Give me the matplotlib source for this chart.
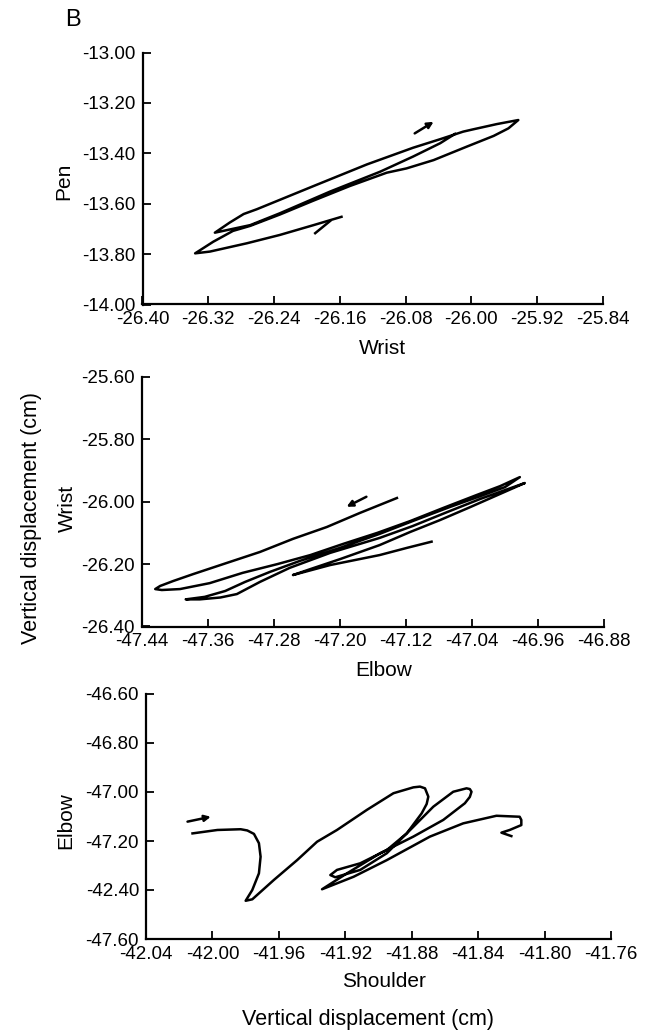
import matplotlib
matplotlib.use("Agg")
import matplotlib.pyplot as plt

plt.rcParams['font.family'] = ['Liberation Sans', 'DejaVu Sans']

# ---- panel 1: Pen vs Wrist ----
pen_x = [-26.020, -26.038, -26.071, -26.111, -26.172, -26.233, -26.269, -26.312,
         -26.294, -26.277, -26.261, -26.192, -26.127, -26.071, -26.038, -26.010,
         -25.998, -25.969, -25.943,
         -25.955, -25.973, -26.006, -26.046, -26.079, -26.103,
         -26.148, -26.193, -26.233, -26.269, -26.290,
         -26.314, -26.336,
         -26.318, -26.273, -26.233, -26.192, -26.158]
pen_y = [-13.323, -13.360, -13.413, -13.473, -13.552, -13.638, -13.685, -13.715,
         -13.675, -13.641, -13.622, -13.530, -13.444, -13.378, -13.344, -13.314,
         -13.305, -13.284, -13.268,
         -13.301, -13.331, -13.374, -13.427, -13.460, -13.477,
         -13.530, -13.589, -13.643, -13.688, -13.708,
         -13.751, -13.797,
         -13.790, -13.757, -13.724, -13.685, -13.652]
pen_barb_x = [-26.190, -26.172]
pen_barb_y = [-13.717, -13.669]
pen_arrow = ((-26.069, -13.321), (-26.046, -13.275))

# ---- panel 2: Wrist vs Elbow ----
wr_x = [-47.131, -47.176, -47.216, -47.257, -47.297, -47.337, -47.378, -47.402, -47.418, -47.424,
        -47.416, -47.394, -47.358, -47.318, -47.276, -47.236, -47.196, -47.155, -47.115, -47.075,
        -47.034, -47.006, -46.982,
        -47.000, -47.030, -47.067, -47.112, -47.152, -47.200, -47.249, -47.285, -47.315, -47.339,
        -47.364, -47.387,
        -47.370, -47.345, -47.325,
        -47.297, -47.261, -47.212, -47.152, -47.112, -47.070, -47.030, -46.976,
        -47.006, -47.042, -47.079, -47.115, -47.152, -47.200, -47.236, -47.257,
        -47.212, -47.152, -47.119, -47.089]
wr_y = [-25.988, -26.036, -26.081, -26.119, -26.161, -26.196, -26.232, -26.254, -26.270, -26.280,
        -26.283, -26.280, -26.261, -26.228, -26.200, -26.171, -26.135, -26.100, -26.062, -26.020,
        -25.978, -25.950, -25.921,
        -25.953, -25.982, -26.017, -26.062, -26.103, -26.148, -26.190, -26.225, -26.257, -26.286,
        -26.305, -26.313,
        -26.313, -26.307, -26.296,
        -26.257, -26.212, -26.164, -26.116, -26.078, -26.033, -25.991, -25.940,
        -25.975, -26.017, -26.059, -26.097, -26.139, -26.184, -26.216, -26.235,
        -26.203, -26.171, -26.148, -26.128]
wr_arrow = ((-47.168, -25.984), (-47.192, -26.016))

# ---- panel 3: Elbow vs Shoulder ----
el_x = [-42.012, -41.997, -41.983, -41.979, -41.975, -41.972, -41.971, -41.972, -41.976, -41.980,
        -41.976, -41.963, -41.949, -41.937, -41.925, -41.907, -41.891, -41.879, -41.875, -41.872,
        -41.870, -41.871, -41.874, -41.883, -41.895, -41.911, -41.925, -41.929,
        -41.926, -41.911, -41.895, -41.879, -41.867, -41.855, -41.847, -41.845,
        -41.844, -41.845, -41.848, -41.861, -41.879, -41.899, -41.919, -41.934,
        -41.915, -41.895, -41.869, -41.849, -41.829, -41.815,
        -41.814, -41.814, -41.821, -41.826, -41.820]
el_y = [-47.169, -47.155, -47.152, -47.157, -47.171, -47.209, -47.264, -47.332, -47.400, -47.444,
        -47.438, -47.359, -47.278, -47.203, -47.155, -47.073, -47.005, -46.981, -46.978, -46.985,
        -47.019, -47.049, -47.087, -47.169, -47.237, -47.291, -47.318, -47.339,
        -47.348, -47.318, -47.250, -47.142, -47.060, -46.999, -46.985, -46.988,
        -46.999, -47.020, -47.046, -47.114, -47.182, -47.250, -47.332, -47.397,
        -47.346, -47.278, -47.182, -47.128, -47.097, -47.101,
        -47.114, -47.135, -47.155, -47.166, -47.180]
el_arrow = ((-42.015, -47.121), (-42.001, -47.101))

# ticks
p1_xticks = [-26.40, -26.32, -26.24, -26.16, -26.08, -26.00, -25.92, -25.84]
p1_yticks = [-14.00, -13.80, -13.60, -13.40, -13.20, -13.00]
p2_xticks = [-47.44, -47.36, -47.28, -47.20, -47.12, -47.04, -46.96, -46.88]
p2_yticks = [-26.40, -26.20, -26.00, -25.80, -25.60]
p3_xticks = [-42.04, -42.00, -41.96, -41.92, -41.88, -41.84, -41.80, -41.76]
p3_yticks = [-47.60, -47.40, -47.20, -47.00, -46.80, -46.60]
p3_ylabels = ["-47.60", "-42.40", "-47.20", "-47.00", "-46.80", "-46.60"]

W, H = 652, 1036
fig = plt.figure(figsize=(W / 100, H / 100), dpi=100)


def make_axes(rect_px, xticks, yticks, ylabels=None):
    l, r, t, b = rect_px
    ax = fig.add_axes([l / W, 1 - b / H, (r - l) / W, (b - t) / H])
    for s in ['top', 'right']:
        ax.spines[s].set_visible(False)
    for s in ['left', 'bottom']:
        ax.spines[s].set_linewidth(1.6)
    ax.set_xlim(xticks[0], xticks[-1])
    ax.set_ylim(yticks[0], yticks[-1])
    ax.set_xticks(xticks)
    ax.set_xticklabels(["%.2f" % v for v in xticks])
    ax.set_yticks(yticks)
    ax.set_yticklabels(ylabels if ylabels else ["%.2f" % v for v in yticks])
    ax.tick_params(direction='in', length=6, width=1.3, labelsize=13.5, pad=5)
    return ax


def arrow(ax, a):
    (x0, y0), (x1, y1) = a
    ax.annotate('', xy=(x1, y1), xytext=(x0, y0),
                arrowprops=dict(arrowstyle='-|>', lw=1.8, color='black',
                                mutation_scale=9, shrinkA=0, shrinkB=0))


ax1 = make_axes((142.5, 603, 52.5, 304.5), p1_xticks, p1_yticks)
ax1.plot(pen_x, pen_y, color='black', lw=1.8, solid_joinstyle='round')
ax1.plot(pen_barb_x, pen_barb_y, color='black', lw=1.8)
arrow(ax1, pen_arrow)

ax2 = make_axes((142, 604, 377, 626.5), p2_xticks, p2_yticks)
ax2.plot(wr_x, wr_y, color='black', lw=1.8, solid_joinstyle='round')
arrow(ax2, wr_arrow)

ax3 = make_axes((146, 611, 694, 939), p3_xticks, p3_yticks, p3_ylabels)
ax3.plot(el_x, el_y, color='black', lw=1.8, solid_joinstyle='round')
arrow(ax3, el_arrow)

# labels
fig.text(73 / W, 1 - 19.5 / H, "B", fontsize=17, ha='center', va='center')
fig.text(63.5 / W, 1 - 181 / H, "Pen", fontsize=15, rotation=90, ha='center', va='center')
fig.text(382 / W, 1 - 348 / H, "Wrist", fontsize=15, ha='center', va='center')
fig.text(67 / W, 1 - 508 / H, "Wrist", fontsize=15, rotation=90, ha='center', va='center')
fig.text(32 / W, 1 - 518 / H, "Vertical displacement (cm)", fontsize=15.5,
         rotation=90, ha='center', va='center')
fig.text(384 / W, 1 - 670 / H, "Elbow", fontsize=15, ha='center', va='center')
fig.text(66 / W, 1 - 821 / H, "Elbow", fontsize=15, rotation=90, ha='center', va='center')
fig.text(384 / W, 1 - 981.7 / H, "Shoulder", fontsize=15, ha='center', va='center')
fig.text(368 / W, 1 - 1020 / H, "Vertical displacement (cm)", fontsize=15.5,
         ha='center', va='center')

fig.savefig("out.png", dpi=100)
